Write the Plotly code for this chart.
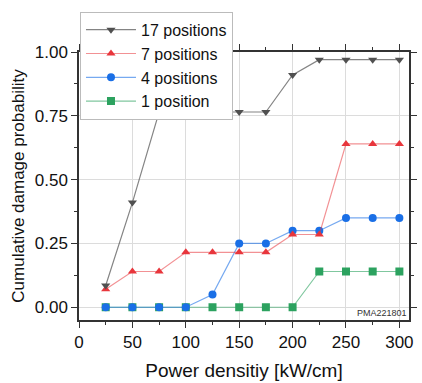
import plotly.graph_objects as go

power = [25, 50, 75, 100, 125, 150, 175, 200, 225, 250, 275, 300]
p17 = [0.085, 0.41, 0.765, 0.765, 0.765, 0.765, 0.765, 0.91, 0.97, 0.97, 0.97, 0.97]
p7 = [0.07, 0.14, 0.14, 0.215, 0.215, 0.215, 0.215, 0.285, 0.285, 0.64, 0.64, 0.64]
p4 = [0.0, 0.0, 0.0, 0.0, 0.05, 0.25, 0.25, 0.30, 0.30, 0.35, 0.35, 0.35]
p1 = [0.0, 0.0, 0.0, 0.0, 0.0, 0.0, 0.0, 0.0, 0.14, 0.14, 0.14, 0.14]

FONT = "Liberation Sans, Arial, sans-serif"
TXT = "#111111"

fig = go.Figure()
series = [
    ("1 position", p1, "#2ca25f", "rgba(44,162,95,0.6)", "square"),
    ("4 positions", p4, "#1a6fe6", "rgba(26,111,230,0.6)", "circle"),
    ("7 positions", p7, "#e8363c", "rgba(232,54,60,0.55)", "triangle-up"),
    ("17 positions", p17, "#505050", "rgba(80,80,80,0.7)", "triangle-down"),
]
for name, ys, mc, lc, sym in series:
    fig.add_trace(go.Scatter(
        x=power, y=ys, name=name, mode="lines+markers",
        line=dict(color=lc, width=1.2),
        marker=dict(color=mc, size=8, symbol=sym),
    ))

axis_common = dict(
    showline=True, linecolor="#333333", linewidth=1.5, mirror="ticks",
    ticks="outside", ticklen=6, tickcolor="#333333", tickwidth=1,
    showgrid=True, gridcolor="#dcdcdc", gridwidth=1, zeroline=False,
    tickfont=dict(family=FONT, size=17, color=TXT),
)
fig.update_xaxes(range=[0, 309], tickvals=[0, 50, 100, 150, 200, 250, 300],
                 minor=dict(tickvals=[25, 75, 125, 175, 225, 275], ticks="outside", ticklen=3, tickcolor="#333333", showgrid=False),
                 title_text="Power densitiy [kW/cm]", title_standoff=13,
                 title_font=dict(family=FONT, size=19, color=TXT), **axis_common)
fig.update_yaxes(range=[-0.05, 1.0], tickvals=[0, 0.25, 0.5, 0.75, 1.0], tickformat=".2f",
                 minor=dict(tickvals=[0.125, 0.375, 0.625, 0.875], ticks="outside", ticklen=3, tickcolor="#333333", showgrid=False),
                 title_text="Cumulative damage probability", title_standoff=6,
                 title_font=dict(family=FONT, size=17, color=TXT), **axis_common)

fig.add_annotation(x=1, y=0, xref="paper", yref="paper", xanchor="right", yanchor="bottom",
                   text="PMA221801", showarrow=False, xshift=0, yshift=0,
                   font=dict(family=FONT, size=9, color="#333333"))

fig.update_layout(
    width=422, height=383,
    margin=dict(l=79, r=5, t=52, b=59),
    paper_bgcolor="white", plot_bgcolor="white",
    font=dict(family=FONT, color=TXT),
    legend=dict(x=0.003, y=1.15, xanchor="left", yanchor="top", traceorder="reversed",
                bgcolor="white", bordercolor="#bbbbbb", borderwidth=1,
                font=dict(family=FONT, size=16, color=TXT),
                itemwidth=50, tracegroupgap=0),
    showlegend=True,
)

fig.write_html("out.html")
